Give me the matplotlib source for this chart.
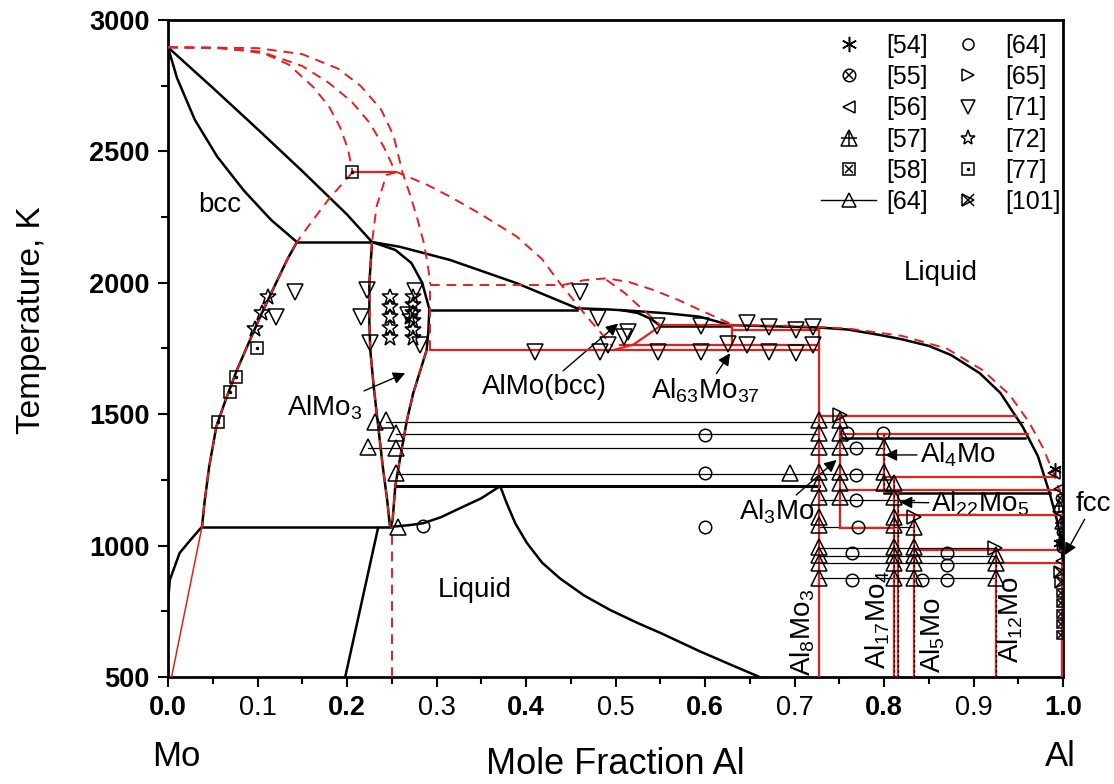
import matplotlib
matplotlib.use("Agg")
import matplotlib.pyplot as plt
from matplotlib.lines import Line2D
from matplotlib.legend_handler import HandlerTuple

plt.rcParams['font.family'] = ['Liberation Sans', 'DejaVu Sans']
plt.rcParams['mathtext.fontset'] = 'custom'
plt.rcParams['mathtext.rm'] = 'Liberation Sans'
plt.rcParams['mathtext.default'] = 'regular'

RED = '#e3201b'

# ---------------- assessed diagram (black) ----------------
liq_mo_x = [0.0, 0.05, 0.10, 0.15, 0.20, 0.228]
liq_mo_T = [2896, 2742, 2585, 2425, 2260, 2155]
bcc_sol_x = [0.0, 0.010, 0.030, 0.055, 0.085, 0.115, 0.144]
bcc_sol_T = [2896, 2780, 2620, 2480, 2350, 2240, 2155]
bcc_bnd_x = [0.144, 0.133, 0.118, 0.103, 0.090, 0.077, 0.065, 0.054, 0.046, 0.041, 0.038]
bcc_bnd_T = [2155, 2087, 1980, 1871, 1770, 1668, 1560, 1453, 1300, 1170, 1072]
liq_mid_x = [0.228, 0.259, 0.315, 0.390, 0.457, 0.490, 0.520, 0.557, 0.594, 0.628]
liq_mid_T = [2155, 2137, 2087, 1998, 1903, 1899, 1893, 1884, 1871, 1839]
liq_al_x = [0.628, 0.68, 0.727, 0.76, 0.796, 0.82, 0.85, 0.875, 0.907, 0.93, 0.955, 0.972, 0.985, 0.993, 0.997, 1.0]
liq_al_T = [1839, 1834, 1830, 1822, 1801, 1785, 1760, 1725, 1656, 1581, 1452, 1340, 1200, 1100, 1040, 933]
almo_low_x = [0.505, 0.525, 0.540, 0.550]
almo_low_T = [1897, 1885, 1862, 1836]
almo3_left_x = [0.228, 0.225, 0.225, 0.226, 0.230, 0.235, 0.240, 0.245, 0.248]
almo3_left_T = [2155, 2000, 1850, 1744, 1600, 1450, 1300, 1170, 1072]
almo3_right_x = [0.228, 0.254, 0.272, 0.284, 0.292, 0.291, 0.289, 0.274, 0.267, 0.259, 0.254, 0.251, 0.249]
almo3_right_T = [2155, 2125, 2075, 2000, 1900, 1820, 1744, 1580, 1478, 1326, 1228, 1098, 1072]
mo_low_x = [0.0, 0.002, 0.013, 0.025, 0.038]
mo_low_T = [780, 869, 972, 1021, 1072]
b12_x = [0.198, 0.235]
b12_T = [500, 1072]
dome_x = [0.251, 0.270, 0.285, 0.305, 0.326, 0.350, 0.371]
dome_T = [1072, 1078, 1085, 1108, 1142, 1180, 1226]
fall_x = [0.371, 0.378, 0.388, 0.401, 0.418, 0.438, 0.465, 0.494, 0.525, 0.550, 0.594, 0.630, 0.661]
fall_T = [1228, 1165, 1085, 1010, 935, 875, 810, 755, 705, 668, 598, 545, 500]

# invariant lines of the assessed diagram: (T, x_start, x_end, linewidth)
black_h = [(2155, 0.144, 0.228, 1.8), (1897, 0.292, 0.457, 1.8), (1836, 0.550, 0.628, 1.8),
           (1072, 0.038, 0.249, 1.8), (1228, 0.254, 0.727, 2.2),
           (1408, 0.751, 0.957, 1.8), (1199, 0.800, 0.985, 1.8)]

# ---------------- calculated diagram (red) ----------------
rd1_x = [0.0, 0.05, 0.103, 0.135, 0.162, 0.180, 0.192, 0.201, 0.206]
rd1_T = [2896, 2894, 2880, 2830, 2746, 2670, 2594, 2510, 2425]
rd2_x = [0.0, 0.06, 0.11, 0.15, 0.18, 0.205, 0.225, 0.241, 0.254]
rd2_T = [2896, 2894, 2872, 2825, 2760, 2690, 2610, 2518, 2423]
rd3_x = [0.0, 0.10, 0.15, 0.19, 0.215, 0.238, 0.252, 0.262, 0.270, 0.278, 0.286, 0.291, 0.293]
rd3_T = [2896, 2893, 2870, 2815, 2750, 2660, 2560, 2420, 2340, 2252, 2150, 2050, 1995]
rd4_x = [0.254, 0.259, 0.290, 0.315, 0.350, 0.390, 0.418, 0.438, 0.468, 0.497]
rd4_T = [2423, 2417, 2372, 2328, 2260, 2175, 2090, 1998, 1871, 1757]
rd5_x = [0.442, 0.465, 0.490, 0.515, 0.542, 0.570, 0.594, 0.632]
rd5_T = [1992, 2010, 2017, 2003, 1973, 1935, 1897, 1839]
rd6_x = [0.490, 0.510, 0.527, 0.540, 0.550]
rd6_T = [2011, 1962, 1909, 1870, 1839]
rd_al_x = [0.632, 0.70, 0.76, 0.82, 0.87, 0.91, 0.94, 0.962, 0.978, 0.99, 0.997, 1.0]
rd_al_T = [1839, 1836, 1826, 1798, 1750, 1668, 1575, 1470, 1370, 1270, 1200, 1150]
bcc_red_x = [0.206, 0.180, 0.160, 0.144]
bcc_red_T = [2420, 2320, 2230, 2155]
apex_left_x = [0.254, 0.244, 0.233, 0.228]
apex_left_T = [2420, 2410, 2290, 2155]
almo_red_x = [0.498, 0.520, 0.535, 0.550]
almo_red_T = [1744, 1765, 1800, 1836]
mo_red_x = [0.038, 0.004]
mo_red_T = [1072, 500]

red_h = [(2420, 0.206, 0.254), (1839, 0.552, 0.630), (1820, 0.630, 0.727),
         (1763, 0.505, 0.727), (1744, 0.293, 0.727),
         (1493, 0.727, 0.948), (1425, 0.751, 0.961), (1262, 0.800, 0.993),
         (1212, 0.751, 0.997), (1116, 0.816, 1.0), (1067, 0.751, 0.810),
         (983, 0.834, 1.0), (934, 0.925, 1.0)]
red_v = [(0.630, 1763, 1839), (0.727, 500, 1820), (0.751, 1067, 1493), (0.800, 1212, 1425),
         (0.811, 500, 1262), (0.816, 500, 1212), (0.834, 500, 1116), (0.925, 500, 983),
         (0.999, 500, 934)]
red_dash_h = [(1992, 0.293, 0.442)]
red_dash_v = [(0.293, 1744, 1995), (0.250, 500, 1072)]

# thin experimental tie lines: (T, x_start, x_end)
tie_lines = [(1472, 0.244, 0.955), (1424, 0.255, 0.727), (1372, 0.224, 0.800),
             (1272, 0.255, 0.800), (1174, 0.727, 0.834), (1072, 0.727, 0.834),
             (991, 0.727, 0.925), (960, 0.727, 0.925), (932, 0.727, 0.925), (875, 0.727, 0.925)]

# ---------------- experimental points ----------------
p71_x = [0.121, 0.142, 0.216, 0.222, 0.226, 0.268, 0.276, 0.282, 0.410, 0.460, 0.481, 0.483, 0.492,
         0.509, 0.514, 0.546, 0.548, 0.596, 0.596, 0.626, 0.647, 0.647, 0.671, 0.671, 0.702, 0.702,
         0.721, 0.721]
p71_T = [1869, 1966, 1871, 1973, 1770, 1878, 1970, 1763, 1738, 1966, 1865, 1738, 1763,
         1793, 1814, 1836, 1738, 1836, 1738, 1767, 1848, 1765, 1833, 1738, 1820, 1734,
         1833, 1763]
p72_x = [0.097, 0.105, 0.112, 0.248, 0.248, 0.248, 0.248, 0.248,
         0.274, 0.274, 0.274, 0.274, 0.274, 0.274, 0.270]
p72_T = [1823, 1886, 1945, 1947, 1908, 1868, 1829, 1789,
         1947, 1915, 1885, 1855, 1822, 1790, 1870]
p77_x = [0.056, 0.069, 0.076, 0.099, 0.206]
p77_T = [1472, 1583, 1640, 1751, 2420]
p64c_x = [0.285, 0.600, 0.600, 0.600, 0.759, 0.769, 0.769, 0.769, 0.771, 0.799,
          0.764, 0.764, 0.842, 0.870, 0.870, 0.870]
p64c_T = [1075, 1421, 1275, 1072, 1427, 1370, 1269, 1174, 1072, 1430,
          971, 869, 869, 971, 926, 869]
p64t_x = ([0.727] * 12 + [0.751] * 6 + [0.800] * 3 + [0.811] * 8 + [0.834] * 5 + [0.925] * 3 +
          [0.231, 0.244, 0.255, 0.224, 0.255, 0.255, 0.257, 0.695])
p64t_T = ([1478, 1427, 1376, 1281, 1238, 1186, 1110, 1078, 996, 964, 932, 875] +
          [1478, 1427, 1376, 1281, 1238, 1186] + [1376, 1281, 1238] +
          [1238, 1186, 1110, 1078, 996, 964, 932, 875] + [1072, 996, 964, 932, 875] +
          [964, 932, 875] +
          [1472, 1478, 1427, 1376, 1370, 1275, 1072, 1275])
p65_x = [0.751, 0.833, 0.924]
p65_T = [1497, 1110, 990]
p54_x = [0.991, 0.996]
p54_T = [1290, 1010]
p55_x = [0.997, 0.998, 0.998]
p55_T = [1180, 1050, 990]
p56_x = [0.990, 0.997, 0.999, 0.999]
p56_T = [1278, 1215, 1120, 940]
p57_x = [0.996, 0.998, 0.999]
p57_T = [1150, 1085, 1020]
p58_x = [0.998, 0.998, 0.998, 0.998, 0.998]
p58_T = [820, 780, 740, 700, 660]
p101_x = [0.997, 0.998]
p101_T = [900, 860]

fig = plt.figure(figsize=(11.14, 7.84), dpi=100)
ax = fig.add_axes([168 / 1114, 107 / 784, 895 / 1114, 657 / 784])
ax.set_xlim(0, 1)
ax.set_ylim(500, 3000)

dash = (0, (5, 3.5))
blk = dict(color='k', lw=1.8, solid_capstyle='butt', solid_joinstyle='round', zorder=3)
red_d = dict(color=RED, lw=1.4, ls=dash, zorder=4)
red_s = dict(color=RED, lw=1.6, zorder=4)

# black curves
for xs, ts in [(liq_mo_x, liq_mo_T), (bcc_sol_x, bcc_sol_T), (bcc_bnd_x, bcc_bnd_T),
               (liq_mid_x, liq_mid_T), (liq_al_x, liq_al_T), (almo_low_x, almo_low_T),
               (almo3_left_x, almo3_left_T), (almo3_right_x, almo3_right_T),
               (mo_low_x, mo_low_T), (b12_x, b12_T), (dome_x, dome_T), (fall_x, fall_T)]:
    ax.plot(xs, ts, **blk)
for T, x0, x1, lw in black_h:
    ax.plot([x0, x1], [T, T], color='k', lw=lw, zorder=3)
for T, x0, x1 in tie_lines:
    ax.plot([x0, x1], [T, T], color='k', lw=0.9, zorder=2)

# red calculated boundaries
for xs, ts in [(rd1_x, rd1_T), (rd2_x, rd2_T), (rd3_x, rd3_T), (rd4_x, rd4_T),
               (rd5_x, rd5_T), (rd6_x, rd6_T), (rd_al_x, rd_al_T), (bcc_red_x, bcc_red_T),
               (apex_left_x, apex_left_T), (bcc_bnd_x, bcc_bnd_T), (almo3_left_x, almo3_left_T),
               (almo3_right_x[6:], almo3_right_T[6:])]:
    ax.plot(xs, ts, **red_d)
ax.plot(almo_red_x, almo_red_T, **red_s)
ax.plot(mo_red_x, mo_red_T, color=RED, lw=1.1, zorder=4)
for T, x0, x1 in red_h:
    ax.plot([x0, x1], [T, T], **red_s)
for x, T0, T1 in red_v:
    ax.plot([x, x], [T0, T1], **red_s)
for x, T0, T1 in red_v[3:8]:
    ax.plot([x, x], [T0, T1], color='k', lw=0.9, ls=(0, (2, 2)), zorder=5)
for T, x0, x1 in red_dash_h:
    ax.plot([x0, x1], [T, T], **red_d)
for x, T0, T1 in red_dash_v:
    ax.plot([x, x], [T0, T1], **red_d)

# experimental points
mk = dict(ls='none', mfc='none', mec='k', mew=1.1, zorder=6)
ax.plot(p71_x, p71_T, marker='v', ms=11, **mk)
ax.plot(p72_x, p72_T, marker='*', ms=12, **mk)
ax.plot(p77_x, p77_T, marker='s', ms=9, **mk)
ax.plot(p77_x, p77_T, marker='.', ms=3, color='k', ls='none', zorder=6)
ax.plot(p64c_x, p64c_T, marker='o', ms=9, **mk)
ax.plot(p64t_x, p64t_T, marker='^', ms=11, **mk)
ax.plot(p65_x, p65_T, marker='>', ms=10, **mk)
ax.plot(p54_x, p54_T, marker=(6, 2, 0), ms=9, **mk)
ax.plot(p55_x, p55_T, marker='o', ms=6, **mk)
ax.plot(p55_x, p55_T, marker='x', ms=5, **mk)
ax.plot(p56_x, p56_T, marker='<', ms=8, **mk)
ax.plot(p57_x, p57_T, marker='^', ms=8, **mk)
ax.plot(p57_x, p57_T, marker='+', ms=8, **mk)
ax.plot(p58_x, p58_T, marker='s', ms=6, **mk)
ax.plot(p58_x, p58_T, marker='x', ms=5, **mk)
ax.plot(p101_x, p101_T, marker='>', ms=8, **mk)
ax.plot(p101_x, p101_T, marker='x', ms=7, **mk)

# labels inside the diagram
fs = 20
ax.text(0.058, 2296, 'bcc', fontsize=fs, ha='center', va='center')
ax.text(0.863, 2037, 'Liquid', fontsize=fs, ha='center', va='center')
ax.text(0.343, 831, 'Liquid', fontsize=fs, ha='center', va='center')
arrow = dict(arrowstyle='-|>', color='k', lw=1.0, mutation_scale=18, shrinkA=0, shrinkB=0)
ax.annotate('AlMo$_3$', xy=(0.265, 1656), xytext=(0.217, 1524), fontsize=fs,
            ha='right', va='center', arrowprops=arrow)
ax.annotate('AlMo(bcc)', xy=(0.503, 1845), xytext=(0.421, 1605), fontsize=fs,
            ha='center', va='center', arrowprops=arrow)
ax.annotate('Al$_{63}$Mo$_{37}$', xy=(0.628, 1732), xytext=(0.600, 1590), fontsize=fs,
            ha='center', va='center', arrowprops=arrow)
ax.annotate('Al$_4$Mo', xy=(0.801, 1345), xytext=(0.84, 1345), fontsize=fs,
            ha='left', va='center', arrowprops=arrow)
ax.annotate('Al$_{22}$Mo$_5$', xy=(0.818, 1165), xytext=(0.853, 1160), fontsize=fs,
            ha='left', va='center', arrowprops=arrow)
ax.annotate('Al$_3$Mo', xy=(0.747, 1326), xytext=(0.680, 1128), fontsize=fs,
            ha='center', va='center', arrowprops=arrow)
ax.annotate('fcc', xy=(1.002, 964), xytext=(1.034, 1160), fontsize=fs,
            ha='center', va='center', arrowprops=arrow, annotation_clip=False)
for s, x, T in [('Al$_8$Mo$_3$', 0.709, 671), ('Al$_{17}$Mo$_4$', 0.793, 717),
                ('Al$_5$Mo', 0.855, 660), ('Al$_{12}$Mo', 0.942, 717)]:
    ax.text(x, T, s, fontsize=fs, rotation=90, ha='center', va='center')

# axes styling
ax.set_xticks([i / 10 for i in range(11)])
ax.set_xticklabels([f'{i / 10:.1f}' for i in range(11)])
for i, lab in enumerate(ax.get_xticklabels()):
    lab.set_fontweight('bold' if i % 2 == 0 else 'normal')
ax.set_xticks([0.05 + i / 10 for i in range(10)], minor=True)
ax.set_yticks([500, 1000, 1500, 2000, 2500, 3000])
ax.set_yticklabels(['500', '1000', '1500', '2000', '2500', '3000'], fontweight='bold')
ax.set_yticks([750, 1250, 1750, 2250, 2750], minor=True)
ax.tick_params(axis='both', which='major', direction='out', length=7, width=1.5,
               labelsize=19.5, pad=6)
ax.tick_params(axis='both', which='minor', direction='out', length=5, width=1.5)
for sp in ax.spines.values():
    sp.set_linewidth(2)

fig.text(615 / 1114, 1 - 765 / 784, 'Mole Fraction Al', fontsize=26, ha='center', va='center')
fig.text(32 / 1114, 1 - 320 / 784, 'Temperature, K', fontsize=24, ha='center', va='center',
         rotation=90)
fig.text(176 / 1114, 1 - 757 / 784, 'Mo', fontsize=25, ha='center', va='center')
fig.text(1060 / 1114, 1 - 757 / 784, 'Al', fontsize=25, ha='center', va='center')

# legend
lm = dict(ls='none', mfc='none', mec='k', mew=1.1)
handles = [
    Line2D([], [], marker=(6, 2, 0), ms=11, **lm),
    (Line2D([], [], marker='o', ms=9, **lm), Line2D([], [], marker='x', ms=6, **lm)),
    Line2D([], [], marker='<', ms=9, **lm),
    (Line2D([], [], marker='^', ms=11, **lm), Line2D([], [], marker='+', ms=11, **lm)),
    (Line2D([], [], marker='s', ms=8, **lm), Line2D([], [], marker='x', ms=6, **lm)),
    Line2D([], [], color='k', lw=1, marker='^', ms=10, mfc='none', mec='k', mew=1.1),
    Line2D([], [], marker='o', ms=8, **lm),
    Line2D([], [], marker='>', ms=9, **lm),
    Line2D([], [], marker='v', ms=10, **lm),
    Line2D([], [], marker='*', ms=11, **lm),
    (Line2D([], [], marker='s', ms=8, **lm), Line2D([], [], marker='.', ms=3, color='k', ls='none')),
    (Line2D([], [], marker='>', ms=9, **lm), Line2D([], [], marker='x', ms=8, **lm)),
]
labels = ['[54]', '[55]', '[56]', '[57]', '[58]', '[64]',
          '[64]', '[65]', '[71]', '[72]', '[77]', '[101]']
ax.legend(handles, labels, ncol=2, loc='upper right', bbox_to_anchor=(1.013, 1.0),
          frameon=False, fontsize=18, handlelength=2.2, handletextpad=0.4,
          columnspacing=0.5, labelspacing=0.29, borderaxespad=0.15,
          handler_map={tuple: HandlerTuple(ndivide=1, pad=0)})

fig.savefig('out.png', dpi=100)
